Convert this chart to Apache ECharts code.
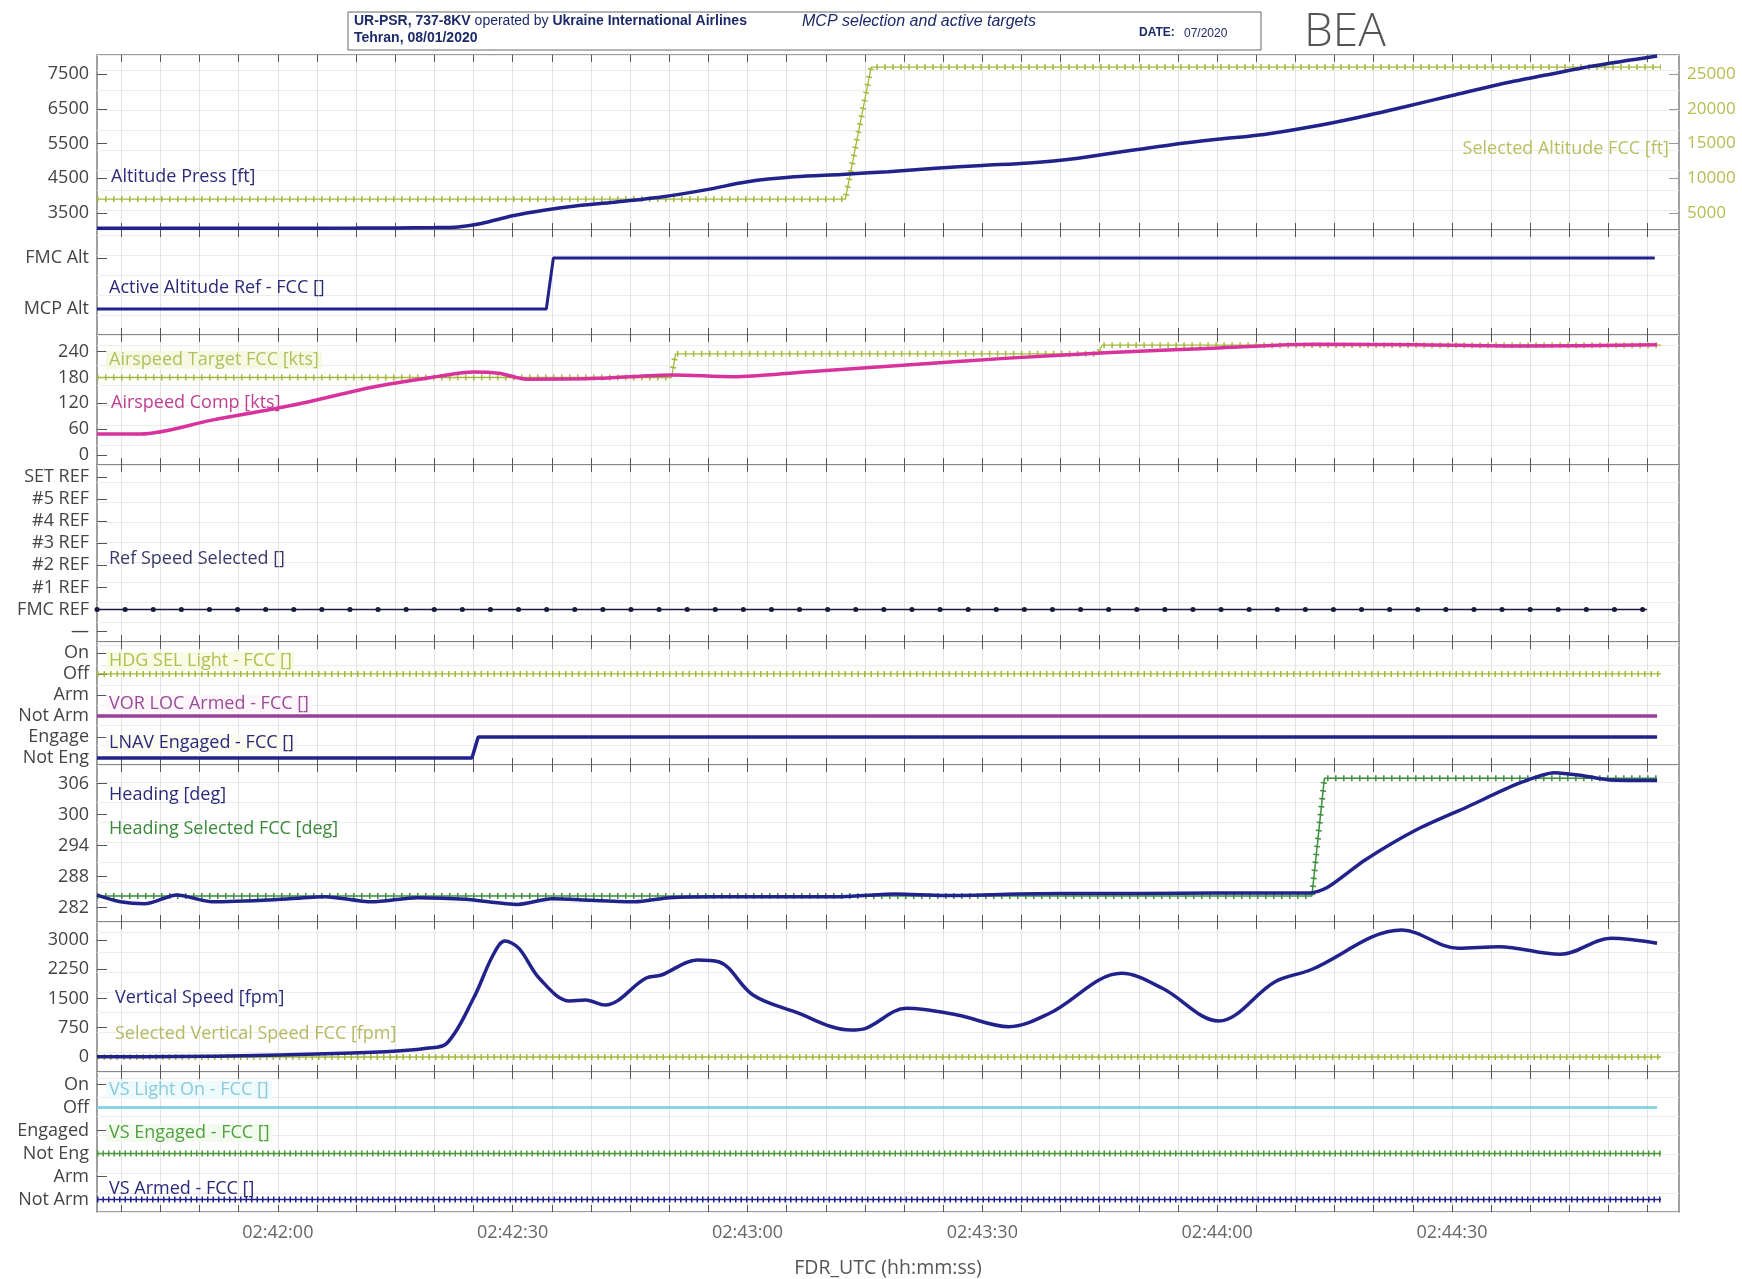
<!DOCTYPE html>
<html><head><meta charset="utf-8">
<script src="https://cdn.jsdelivr.net/npm/echarts@6/dist/echarts.min.js"></script>
<style>html,body{margin:0;padding:0;background:#fff}#c{width:1742px;height:1279px}</style>
</head><body><div id="c"></div>
<script>
// ================= DATA =================
// time = seconds after 02:42:00 UTC
const xTickLabels = ['02:42:00','02:42:30','02:43:00','02:43:30','02:44:00','02:44:30'];
const xLabelSeconds = [0,30,60,90,120,150];
const xMajorTicks = [-20,-15,-10,-5,0,5,10,15,20,25,30,35,40,45,50,55,60,65,70,75,80,85,90,95,100,105,110,115,120,125,130,135,140,145,150,155,160,165,170,175];

// axis tick labels
const altTicks = [3500,4500,5500,6500,7500];
const selAltTicks = [5000,10000,15000,20000,25000];
const altRefLabels = ['MCP Alt','FMC Alt'];
const iasTicks = [0,60,120,180,240];
const refSpeedLabels = ['\u2014','FMC REF','#1 REF','#2 REF','#3 REF','#4 REF','#5 REF','SET REF'];
const modeLabels = ['Not Eng','Engage','Not Arm','Arm','Off','On'];
const hdgTicks = [282,288,294,300,306];
const vsTicks = [0,750,1500,2250,3000];
const vsModeLabels = ['Not Arm','Arm','Not Eng','Engaged','Off','On'];

// Panel 1 - altitude
const altPressT  = [-23.1,-10,0,10,20,23,26,30,34,38,43,49,55,60,66,72,78,84,90,96,102,108,114,120,126,132,138,144,150,156,162,168,176.2];
const altPressFt = [3060,3058,3060,3065,3080,3100,3200,3420,3580,3700,3810,3960,4180,4400,4540,4610,4690,4790,4870,4940,5070,5270,5460,5620,5760,5980,6250,6560,6880,7200,7470,7730,8020];
const selAltT  = [-23.1,72.5,75.8,176.7];
const selAltFt = [7000,7000,26000,26000];
// Panel 2 - active altitude ref (0 = MCP Alt, 1 = FMC Alt)
const altRefT = [-23.1,34.3,35.2,175.9];
const altRefV = [0,0,1,1];
// Panel 3 - airspeed
const iasT  = [-23.1,-17.5,-8.4,2,12.5,20.3,25,28.2,32,41,50.4,58.2,67.3,80.3,93.4,106.4,119.5,132.5,145.6,158.6,176.2];
const iasKt = [49,49,81,116,159,182,193,190,176,178,186,182,193,209,225,238,248,257,256,253,256];
const iasTgtT  = [-23.1,50.3,50.8,104.8,105.3,176.7];
const iasTgtKt = [180,180,235,235,255,255];
// Panel 4 - ref speed selected (0 = FMC REF)
const refSpdT = [-23.1,174.9];
const refSpdV = [0,0];
// Panel 5 - HDG SEL (4=Off), VOR LOC (2=Not Arm), LNAV (0=Not Eng,1=Engage)
const hdgSelLtT = [-23.1,176.7]; const hdgSelLtV = [4,4];
const vorLocT = [-23.1,176.2];   const vorLocV = [2,2];
const lnavT = [-23.1,24.8,25.6,176.2]; const lnavV = [0,0,1,1];
// Panel 6 - heading
const hdgT   = [-23.1,-20.1,-17,-12.9,-8.4,-0.5,6,12,17.8,24,30.7,35,40,45.6,50,56.1,65,72,79,85,94.4,100,110,120,131.7,134,138.9,145.4,152,158.5,163.1,166.4,170.1,176.2];
const hdgDeg = [284.4,283.1,282.7,284.4,283.1,283.5,284.1,283.1,283.9,283.6,282.6,283.7,283.4,283.1,283.9,284.1,284.1,284.1,284.6,284.3,284.6,284.7,284.7,284.8,284.8,285.8,291.2,297,301.5,306,308.1,307.6,306.7,306.6];
const hdgSelT   = [-23.1,132.1,133.7,176.2];
const hdgSelDeg = [284.2,284.2,307,307];
// Panel 7 - vertical speed
const vsT   = [-23.1,-4.5,13.8,19,21.6,25,27.5,29,30.8,33.4,37.3,39.3,41.8,47,49,53.6,56.3,60.7,66,73.2,75.1,80.3,86.8,93.4,98.6,107.8,113,120.2,127.4,131.9,143.6,150.8,156,163.8,170.3,176.2];
const vsFpm = [8,33,136,223,351,1505,2615,2974,2787,2018,1436,1462,1333,2018,2103,2487,2444,1590,1162,692,736,1249,1077,777,1121,2146,1762,923,1931,2231,3256,2787,2828,2633,3044,2915];
const selVsT = [-23.1,176.7]; const selVsFpm = [0,0];
// Panel 8 - VS modes (4=Off, 2=Not Eng, 0=Not Arm)
const vsLightT = [-23.1,176.2]; const vsLightV = [4,4];
const vsEngT = [-23.1,176.7];   const vsEngV = [2,2];
const vsArmT = [-23.1,176.7];   const vsArmV = [0,0];

// ================= LAYOUT / STYLE =================
const FONT = 'Open Sans';
const LEFT = 97, RIGHT = 63;
const X_MIN = -23.1, X_MAX = 179.0;
const NAVY = '#22228c', YG = '#a4b83a', PINK = '#d8339c', PURPLE = '#9a3f9a', GREEN = '#3c8f3c', CYAN = '#88d4e6', VSGREEN = '#4a9a3a', DARK = '#1a1a3a';

const panels = [
  {top:55,   h:175, min:3011,   max:8047,   ticks:altTicks, labels:altTicks.map(String)},
  {top:230,  h:105, min:-0.51,  max:1.55,   ticks:[0,1], labels:altRefLabels},
  {top:335,  h:130, min:-23.2,  max:278.7,  ticks:iasTicks, labels:iasTicks.map(String)},
  {top:465,  h:177, min:-1.47,  max:6.54,   ticks:[-1,0,1,2,3,4,5,6], labels:refSpeedLabels},
  {top:642,  h:123, min:-0.33,  max:5.52,   ticks:[0,1,2,3,4,5], labels:modeLabels},
  {top:765,  h:157, min:279.19, max:309.58, ticks:hdgTicks, labels:hdgTicks.map(String)},
  {top:922,  h:150, min:-385,   max:3462,   ticks:vsTicks, labels:vsTicks.map(String)},
  {top:1072, h:146, min:-0.54,  max:5.54,   ticks:[0,1,2,3,4,5], labels:vsModeLabels}
];

function lookup(ticks, labels){
  return function(v){
    let bi = 0, bd = Infinity;
    ticks.forEach((t,i)=>{ const d = Math.abs(t - v); if (d < bd){bd = d; bi = i;} });
    return bd < 1e-6 * Math.max(1, Math.abs(v)) + 1e-9 ? labels[bi] : '';
  };
}

const grid = [], xAxis = [], yAxis = [], yMain = [];
let yRight1 = -1;
panels.forEach((p, i) => {
  grid.push({left:LEFT, right:RIGHT, top:p.top, height:p.h, show:true, borderColor:'#808080', borderWidth:1.5, backgroundColor:'#fff'});
  xAxis.push({
    gridIndex:i, type:'value', min:X_MIN, max:X_MAX, position:'bottom',
    axisLine:{show:false, onZero:false},
    axisTick:{show:true, inside:true, length:7, customValues:xMajorTicks, lineStyle:{color:'#555', width:1}},
    axisLabel:{show:i === 7, customValues:xLabelSeconds, formatter:lookup(xLabelSeconds, xTickLabels), color:'#666', fontSize:18, fontFamily:FONT, margin:12},
    splitLine:{show:true, lineStyle:{color:'#e2e2e2', width:1}},
    name: i === 7 ? 'FDR_UTC (hh:mm:ss)' : '', nameLocation:'middle', nameGap:46,
    nameTextStyle:{color:'#555', fontSize:19.5, fontFamily:FONT}
  });
  xAxis.push({
    gridIndex:i, type:'value', min:X_MIN, max:X_MAX, position:'top',
    axisLine:{show:false, onZero:false},
    axisTick:{show:true, inside:true, length:7, customValues:xMajorTicks, lineStyle:{color:'#555', width:1}},
    axisLabel:{show:false}, splitLine:{show:false}
  });
  yMain.push(yAxis.length);
  yAxis.push({
    gridIndex:i, type:'value', min:p.min, max:p.max, position:'left',
    axisLine:{show:false, onZero:false},
    axisTick:{show:true, inside:true, length:10, customValues:p.ticks, lineStyle:{color:'#555', width:1}},
    axisLabel:{customValues:p.ticks, formatter:lookup(p.ticks, p.labels), color:'#444', fontSize:18, fontFamily:FONT, margin:8},
    splitLine:{show:false}
  });
  if (i === 0) {
    yRight1 = yAxis.length;
    yAxis.push({
      gridIndex:0, type:'value', min:2554, max:27734, position:'right',
      axisLine:{show:false, onZero:false},
      axisTick:{show:true, inside:true, length:10, customValues:selAltTicks, lineStyle:{color:'#999', width:1}},
      axisLabel:{customValues:selAltTicks, formatter:lookup(selAltTicks, selAltTicks.map(String)), color:'#b4bc50', fontSize:17, fontFamily:FONT, margin:8},
      splitLine:{show:false}
    });
  }
  // faint background grid
  yAxis.push({
    gridIndex:i, type:'value', min:0, max:p.h, interval:20, position:'right',
    axisLine:{show:false, onZero:false}, axisTick:{show:false}, axisLabel:{show:false},
    splitLine:{show:true, lineStyle:{color:'#ececec', width:1}}
  });
});

function pts(xs, ys){ return xs.map((x, k) => [x, ys[k]]); }
function mk(o){ return Object.assign({type:'line', symbol:'none', showSymbol:false, animation:false, silent:true, z:3}, o); }
function solid(name, gi, yi, xs, ys, color, width, smooth){
  return mk({name, xAxisIndex:2*gi, yAxisIndex:yi, data:pts(xs, ys), smooth:smooth || false, lineStyle:{color, width}});
}
function ticked(name, gi, yi, xs, ys, color, w, dash){
  const data = pts(xs, ys);
  return [
    mk({name, xAxisIndex:2*gi, yAxisIndex:yi, data, lineStyle:{color, width:w || 1.3}}),
    mk({name:name + ' samples', xAxisIndex:2*gi, yAxisIndex:yi, data, lineStyle:{color, width:6, type:dash || [1.5, 6.5], cap:'butt'}})
  ];
}

const series = [].concat(
  ticked('Selected Altitude FCC [ft]', 0, yRight1, selAltT, selAltFt, YG),
  [solid('Altitude Press [ft]', 0, yMain[0], altPressT, altPressFt, NAVY, 3.5, 0.3)],
  [solid('Active Altitude Ref - FCC []', 1, yMain[1], altRefT, altRefV, NAVY, 3)],
  ticked('Airspeed Target FCC [kts]', 2, yMain[2], iasTgtT, iasTgtKt, YG),
  [solid('Airspeed Comp [kts]', 2, yMain[2], iasT, iasKt, PINK, 3.5, 0.3)],
  [solid('Ref Speed Selected []', 3, yMain[3], refSpdT, refSpdV, DARK, 1.5),
   mk({name:'Ref Speed dots', xAxisIndex:6, yAxisIndex:yMain[3], data:pts(refSpdT, refSpdV), lineStyle:{color:DARK, width:5, type:[0.1, 28], cap:'round'}})],
  ticked('HDG SEL Light - FCC []', 4, yMain[4], hdgSelLtT, hdgSelLtV, YG, 1.3, [1.5, 5]),
  [solid('VOR LOC Armed - FCC []', 4, yMain[4], vorLocT, vorLocV, PURPLE, 3.5)],
  [solid('LNAV Engaged - FCC []', 4, yMain[4], lnavT, lnavV, NAVY, 3.5)],
  ticked('Heading Selected FCC [deg]', 5, yMain[5], hdgSelT, hdgSelDeg, GREEN, 1.5),
  [solid('Heading [deg]', 5, yMain[5], hdgT, hdgDeg, NAVY, 3.5, 0.25)],
  ticked('Selected Vertical Speed FCC [fpm]', 6, yMain[6], selVsT, selVsFpm, YG, 1.5, [1.5, 5]),
  [solid('Vertical Speed [fpm]', 6, yMain[6], vsT, vsFpm, NAVY, 3.5, 0.35)],
  [solid('VS Light On - FCC []', 7, yMain[7], vsLightT, vsLightV, CYAN, 3)],
  ticked('VS Engaged - FCC []', 7, yMain[7], vsEngT, vsEngV, VSGREEN, 1.5, [1.5, 4]),
  ticked('VS Armed - FCC []', 7, yMain[7], vsArmT, vsArmV, NAVY, 1.5, [1.5, 4])
);

// series name labels inside panels
function lbl(text, x, y, color, bg, align){
  return {type:'text', x, y, z:10, silent:true,
    style:{text, fill:color, font:'18px "' + FONT + '"', textAlign:align || 'left', textVerticalAlign:'middle',
      backgroundColor:bg || 'transparent', padding:[0,3,0,3]}};
}
const labels = [
  lbl('Altitude Press [ft]', 108, 177, '#2a2a7a'),
  lbl('Selected Altitude FCC [ft]', 1672, 149, '#b8c060', null, 'right'),
  lbl('Active Altitude Ref - FCC []', 106, 288, '#2a2a7a'),
  lbl('Airspeed Target FCC [kts]', 106, 360, '#b0c060', 'rgba(246,248,220,0.8)'),
  lbl('Airspeed Comp [kts]', 108, 403, '#c04090'),
  lbl('Ref Speed Selected []', 106, 559, '#3a3a6a'),
  lbl('HDG SEL Light - FCC []', 106, 661, '#b0c050', 'rgba(248,250,225,0.85)'),
  lbl('VOR LOC Armed - FCC []', 106, 704, '#9a4a9a', 'rgba(255,245,252,0.85)'),
  lbl('LNAV Engaged - FCC []', 106, 743, '#2a2a7a', 'rgba(250,250,240,0.85)'),
  lbl('Heading [deg]', 106, 795, '#2a2a7a'),
  lbl('Heading Selected FCC [deg]', 106, 829, '#3a8a3a'),
  lbl('Vertical Speed [fpm]', 112, 998, '#2a2a7a'),
  lbl('Selected Vertical Speed FCC [fpm]', 112, 1034, '#b4b860'),
  lbl('VS Light On - FCC []', 106, 1090, '#8cc8dc', 'rgba(235,250,252,0.85)'),
  lbl('VS Engaged - FCC []', 106, 1133, '#50a040', 'rgba(240,250,235,0.85)'),
  lbl('VS Armed - FCC []', 106, 1189, '#2a2a7a')
];

const header = [
  {type:'rect', shape:{x:348, y:12, width:913, height:38}, style:{fill:'#fff', stroke:'#666', lineWidth:1}, z:5, silent:true},
  {type:'text', x:354, y:14, z:10, silent:true, style:{
    text:'{b|UR-PSR, 737-8KV} {n|operated by} {b|Ukraine International Airlines}',
    rich:{b:{fontWeight:'bold', fontSize:14, fontFamily:'Liberation Sans', fill:'#1c2a6a'},
          n:{fontSize:14, fontFamily:'Liberation Sans', fill:'#1c2a6a'}},
    fill:'#1c2a6a', font:'14px "Liberation Sans"'}},
  {type:'text', x:354, y:31, z:10, silent:true, style:{text:'Tehran, 08/01/2020', fill:'#1c2a6a', font:'bold 14px "Liberation Sans"'}},
  {type:'text', x:802, y:14, z:10, silent:true, style:{text:'MCP selection and active targets', fill:'#1c2a6a', font:'italic 16px "Liberation Sans"'}},
  {type:'text', x:1139, y:27, z:10, silent:true, style:{text:'DATE:', fill:'#1c2a6a', font:'bold 12px "Liberation Sans"'}},
  {type:'text', x:1184, y:28, z:10, silent:true, style:{text:'07/2020', fill:'#1c2a6a', font:'12px "Liberation Sans"'}},
  {type:'text', x:1304, y:10, z:10, silent:true, style:{text:'BEA', fill:'#555', font:'300 46px "Open Sans"'}}
];

const chart = echarts.init(document.getElementById('c'), null, {width:1742, height:1279, renderer:'canvas'});
chart.setOption({
  animation:false,
  backgroundColor:'#fff',
  textStyle:{fontFamily:FONT},
  grid, xAxis, yAxis, series,
  graphic:{elements: header.concat(labels)}
});
</script>
</body></html>
